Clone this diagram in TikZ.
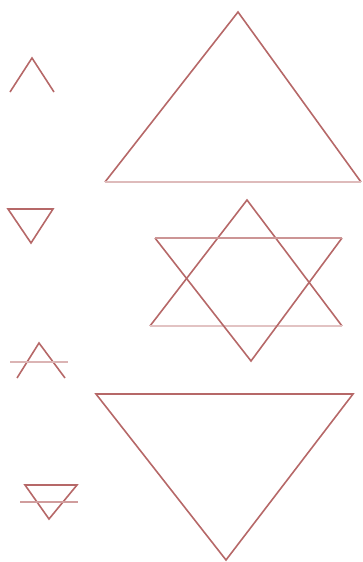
\documentclass[tikz,border=0pt]{standalone}
\definecolor{sym}{RGB}{182,104,104}
\tikzset{symline/.style={draw=sym, line width=1.6pt, line join=miter}}
\begin{document}
\begin{tikzpicture}[x=1pt,y=-1pt]
\useasboundingbox (0,0) rectangle (362,562);
% small symbols (left column)
\draw[symline] (10,92) -- (32,58) -- (54,92);
\draw[symline] (8,209) -- (53,209) -- (31,243) -- cycle;
\draw[symline] (17,378) -- (39,343) -- (65,378);
\draw[symline, sym!50] (10,362) -- (68,362);
\draw[symline] (25,485) -- (77,485) -- (49,519) -- cycle;
\draw[symline, sym!65] (20,502) -- (78,502);
% big up triangle
\draw[symline] (105,182) -- (238,12) -- (361,182);
\draw[symline, sym!45] (105,182) -- (361,182);
% star
\draw[symline] (150,326) -- (247,200) -- (342,326);
\draw[symline, sym!40] (150,326) -- (342,326);
\draw[symline] (155,238) -- (251,361) -- (342,238);
\draw[symline, sym!70] (155,238) -- (342,238);
% big down triangle
\draw[symline] (96,394) -- (353,394) -- (226,560) -- cycle;
\end{tikzpicture}
\end{document}
